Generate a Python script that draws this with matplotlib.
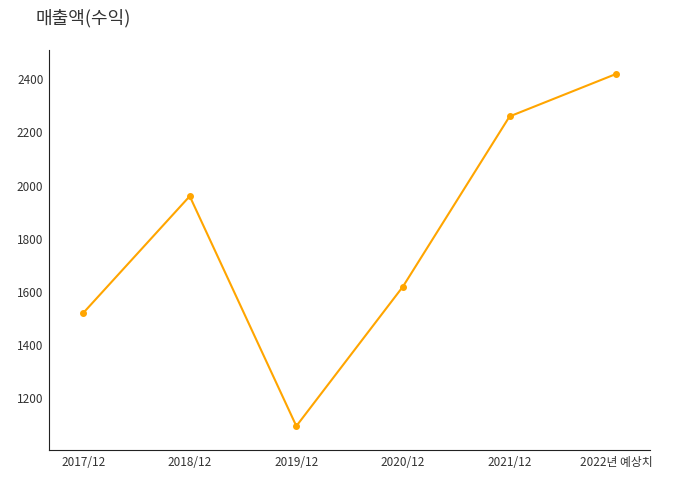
import matplotlib
matplotlib.use('Agg')
import matplotlib.pyplot as plt

plt.rcParams['font.family'] = ['Noto Sans CJK KR', 'DejaVu Sans']

# 연도별 매출액
periods = ['2017/12', '2018/12', '2019/12', '2020/12', '2021/12', '2022년 예상치']
revenue = [1520, 1960, 1095, 1620, 2260, 2420]

fig = plt.figure(figsize=(7, 5), dpi=100)
ax = fig.add_axes([0.07, 0.1, 0.859, 0.8])

x = range(len(periods))
ax.plot(x, revenue, color='#FFA500', linewidth=1.5, marker='o', markersize=4)

ax.set_xticks(list(x))
ax.set_xticklabels(periods)
ax.set_yticks([1200, 1400, 1600, 1800, 2000, 2200, 2400])
ax.set_xlim(-0.32, 5.32)
ax.set_ylim(1005, 2510)

ax.spines['top'].set_visible(False)
ax.spines['right'].set_visible(False)
ax.spines['left'].set_color('#222222')
ax.spines['bottom'].set_color('#222222')
ax.tick_params(length=0, labelsize=8.5, colors='#333333', pad=4)

fig.text(36 / 700, 1 - 18 / 500, '매출액(수익)', fontsize=13, color='#333333',
         va='center', ha='left')

fig.savefig('out.png', dpi=100)
